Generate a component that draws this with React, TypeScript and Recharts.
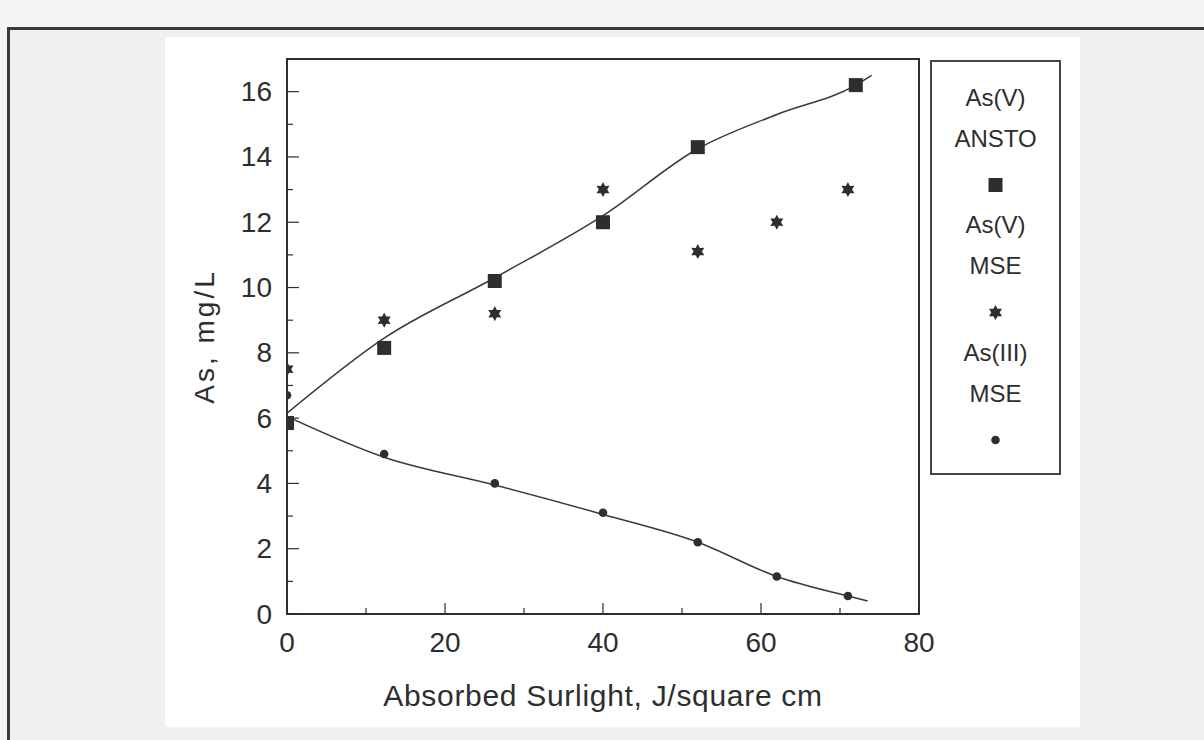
import { ComposedChart, Line, Scatter, XAxis, YAxis, ReferenceArea } from "recharts";

const INK = "#2e2e2e";
const FONT = '"Liberation Sans", Arial, Helvetica, sans-serif';

// measured points
const anstoX = [0, 12.3, 26.3, 40, 52, 72];
const anstoAsV = [5.85, 8.15, 10.2, 12.0, 14.3, 16.2];
const mseX = [0, 12.3, 26.3, 40, 52, 62, 71];
const mseAsV = [7.5, 9.0, 9.2, 13.0, 11.1, 12.0, 13.0];
const mseAsIII = [6.7, 4.9, 4.0, 3.1, 2.2, 1.15, 0.55];

// fitted curves
const fitVX = [0, 12.3, 26.3, 40, 52, 62, 72, 74];
const fitV = [6.15, 8.45, 10.3, 12.2, 14.25, 15.3, 16.2, 16.5];
const fitIIIX = [0, 12.3, 26.3, 40, 52, 62, 71, 73.5];
const fitIII = [6.05, 4.8, 3.95, 3.05, 2.2, 1.15, 0.55, 0.4];

const xTicks = [0, 10, 20, 30, 40, 50, 60, 70, 80];
const yTicks = [0, 1, 2, 3, 4, 5, 6, 7, 8, 9, 10, 11, 12, 13, 14, 15, 16];

const seriesNames = ["As(V) ANSTO", "As(V) MSE", "As(III) MSE"];

const zip = (xs: number[], ys: number[]) => xs.map((x, i) => ({ x, y: ys[i] }));

const anstoData = zip(anstoX, anstoAsV);
const mseVData = zip(mseX, mseAsV);
const mseIIIData = zip(mseX, mseAsIII);
const fitVData = zip(fitVX, fitV);
const fitIIIData = zip(fitIIIX, fitIII);

const TICK_MARGIN_X = 28;
const TICK_MARGIN_Y = 15;
const TICK_FONT = 28;

const Square = ({ cx, cy }: any) => <rect x={cx - 7} y={cy - 7} width={14} height={14} fill={INK} />;

const Hexagram = ({ cx, cy }: any) => {
  const pts: string[] = [];
  for (let i = 0; i < 12; i++) {
    const r = i % 2 === 0 ? 7.5 : 4.2;
    const a = (Math.PI / 6) * i - Math.PI / 2;
    pts.push(`${cx + r * Math.cos(a)},${cy + r * Math.sin(a)}`);
  }
  return <polygon points={pts.join(" ")} fill={INK} />;
};

const Dot = ({ cx, cy }: any) => <circle cx={cx} cy={cy} r={4.3} fill={INK} />;

const markers: Record<string, (p: any) => any> = {
  "As(V) ANSTO": Square,
  "As(V) MSE": Hexagram,
  "As(III) MSE": Dot,
};

const XTick = ({ x, y, payload }: any) => {
  const axisY = y - TICK_MARGIN_X;
  const major = payload.value % 20 === 0;
  return (
    <g>
      <line x1={x} x2={x} y1={axisY} y2={axisY - (major ? 11 : 6)} stroke={INK} strokeWidth={1.2} />
      {major && (
        <text x={x} y={y} textAnchor="middle" dominantBaseline="central" fontSize={TICK_FONT} fill={INK} fontFamily={FONT}>
          {payload.value}
        </text>
      )}
    </g>
  );
};

const YTick = ({ x, y, payload }: any) => {
  const axisX = x + TICK_MARGIN_Y;
  const major = payload.value % 2 === 0;
  return (
    <g>
      <line x1={axisX} x2={axisX + (major ? 12 : 6)} y1={y} y2={y} stroke={INK} strokeWidth={1.2} />
      {major && (
        <text x={x} y={y} textAnchor="end" dominantBaseline="central" fontSize={TICK_FONT} fill={INK} fontFamily={FONT}>
          {payload.value}
        </text>
      )}
    </g>
  );
};

// legend box: two text lines per series, marker underneath
const LegendBox = () => (
  <svg width={131} height={415} style={{ position: "absolute", left: 930, top: 60, display: "block" }}>
    <rect x={1} y={1} width={129} height={413} fill="#fff" stroke="#444" strokeWidth={2} />
    {seriesNames.map((name, i) => {
      const [first, ...rest] = name.split(" ");
      const top = 37 + i * 127.5;
      const Marker = markers[name];
      return (
        <g key={name} fontFamily={FONT} fontSize={24} fill={INK}>
          <text x={65.5} y={top} textAnchor="middle" dominantBaseline="central">{first}</text>
          <text x={65.5} y={top + 41} textAnchor="middle" dominantBaseline="central">{rest.join(" ")}</text>
          <Marker cx={65.5} cy={top + 88} />
        </g>
      );
    })}
  </svg>
);

export default function App() {
  return (
    <div style={{ position: "absolute", left: 0, top: 0, width: 1204, height: 740, overflow: "hidden", background: "#f5f5f5" }}>
      <div
        style={{
          position: "absolute", left: 7, top: 27, width: 1240, height: 780,
          border: "3px solid #3a3a3a", boxSizing: "border-box", background: "#f0f0f0",
        }}
      />
      <div style={{ position: "absolute", left: 165, top: 37, width: 915, height: 690, background: "#fff" }}>
        <ComposedChart width={915} height={690} margin={{ top: 22, right: 161, bottom: 53, left: 42 }}>
          <XAxis
            type="number"
            dataKey="x"
            domain={[0, 80]}
            ticks={xTicks}
            interval={0}
            allowDataOverflow
            height={60}
            tickSize={0}
            tickMargin={TICK_MARGIN_X}
            tick={<XTick />}
            axisLine={{ stroke: INK, strokeWidth: 2 }}
            label={{
              content: ({ viewBox }: any) => (
                <text
                  x={viewBox.x + viewBox.width / 2}
                  y={viewBox.y + viewBox.height + 21}
                  textAnchor="middle"
                  dominantBaseline="central"
                  fontSize={30}
                  letterSpacing={0.7}
                  fill={INK}
                  fontFamily={FONT}
                >
                  Absorbed Surlight, J/square cm
                </text>
              ),
            }}
          />
          <YAxis
            type="number"
            dataKey="y"
            domain={[0, 17]}
            ticks={yTicks}
            interval={0}
            width={80}
            tickSize={0}
            tickMargin={TICK_MARGIN_Y}
            tick={<YTick />}
            axisLine={{ stroke: INK, strokeWidth: 2 }}
            label={{
              content: ({ viewBox }: any) => {
                const cx = viewBox.x - 3;
                const cy = viewBox.y + viewBox.height / 2;
                return (
                  <text
                    x={cx}
                    y={cy}
                    transform={`rotate(-90 ${cx} ${cy})`}
                    textAnchor="middle"
                    dominantBaseline="central"
                    fontSize={28}
                    letterSpacing={3}
                    fill={INK}
                    fontFamily={FONT}
                  >
                    As, mg/L
                  </text>
                );
              },
            }}
          />
          <ReferenceArea x1={0} x2={80} y1={0} y2={17} fill="none" stroke={INK} strokeWidth={2} ifOverflow="visible" />
          <Line data={fitVData} dataKey="y" type="monotone" stroke="#3a3a3a" strokeWidth={1.5} dot={false} legendType="none" isAnimationActive={false} />
          <Line data={fitIIIData} dataKey="y" type="monotone" stroke="#3a3a3a" strokeWidth={1.5} dot={false} legendType="none" isAnimationActive={false} />
          <Scatter name="As(V) ANSTO" data={anstoData} shape={Square} isAnimationActive={false} />
          <Scatter name="As(V) MSE" data={mseVData} shape={Hexagram} isAnimationActive={false} />
          <Scatter name="As(III) MSE" data={mseIIIData} shape={Dot} isAnimationActive={false} />
        </ComposedChart>
      </div>
      <LegendBox />
    </div>
  );
}
